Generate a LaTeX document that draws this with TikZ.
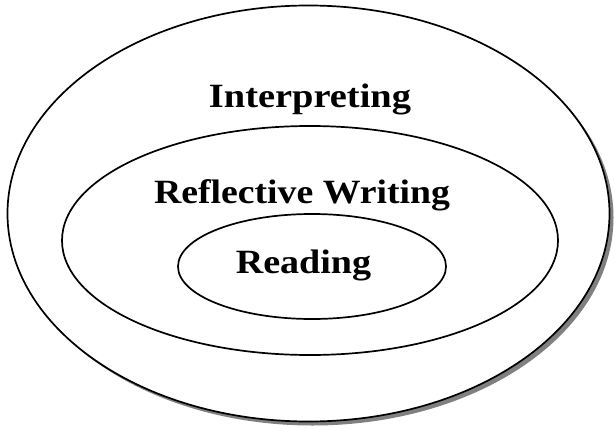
\documentclass[tikz,border=0pt]{standalone}
\usepackage{fontspec}
\setmainfont{Liberation Serif}
\usepackage{graphicx}
\usetikzlibrary{shapes.geometric,shadows}
\definecolor{shadowgray}{RGB}{128,128,128}
\tikzset{
  ring/.style={ellipse, draw=black, line width=1.7pt, fill=white, inner sep=0pt},
  ringshadow/.style={drop shadow={shadow xshift=4pt, shadow yshift=-4pt, fill=shadowgray, opacity=1}},
  label/.style={anchor=base, inner sep=0pt, font=\fontsize{34}{40}\selectfont\bfseries}
}
\begin{document}
\begin{tikzpicture}[x=1pt,y=-1pt]
\useasboundingbox (0,0) rectangle (615,428);
\node[ring, ringshadow, minimum width=602pt, minimum height=416pt] (outer) at (308.5,213.5) {};
\node[ring, minimum width=496pt, minimum height=229pt] (middle) at (310,240.5) {};
\node[ring, minimum width=268pt, minimum height=105pt] (inner) at (312,266.5) {};
\node[label] (interp) at (310,107) {\scalebox{1.13}[1]{Interpreting}};
\node[label] (reflect) at (302,203) {\scalebox{1.11}[1]{Reflective Writing}};
\node[label] (read) at (303.5,273) {\scalebox{1.12}[1]{Reading}};
\end{tikzpicture}
\end{document}
